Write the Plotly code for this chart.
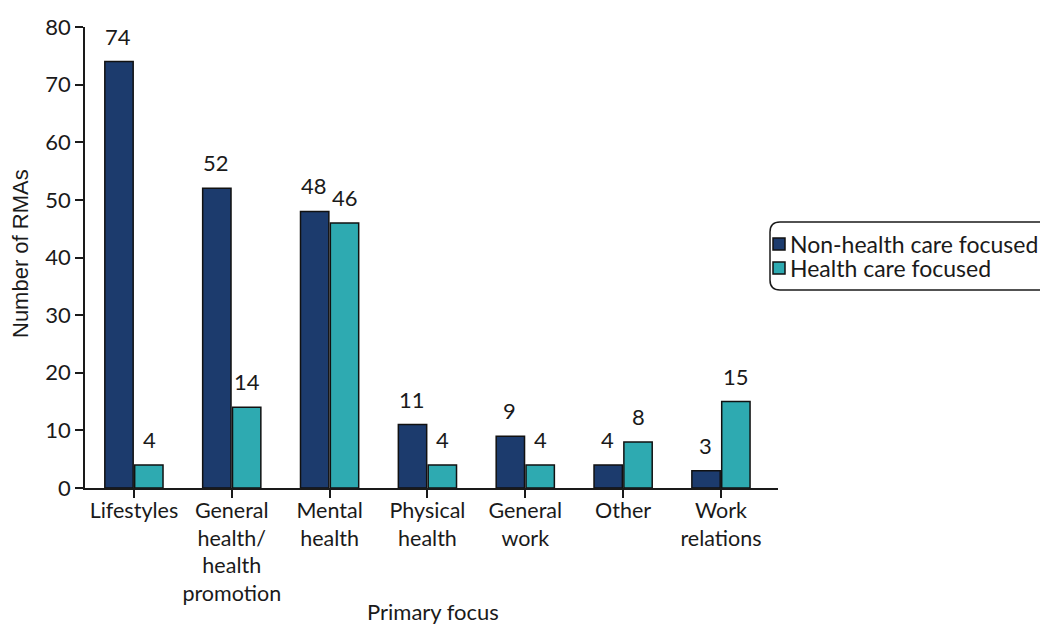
import plotly.graph_objects as go

categories = ["Lifestyles", "General<br>health/<br>health<br>promotion", "Mental<br>health",
              "Physical<br>health", "General<br>work", "Other", "Work<br>relations"]
non_health = [74, 52, 48, 11, 9, 4, 3]
health = [4, 14, 46, 4, 4, 8, 15]
series_names = ["Non-health care focused", "Health care focused"]
colors = ["#1c3b6d", "#2eaab1"]

OFF = 8  # page body margin
W, H = 1048 - OFF, 625 - OFF
L, R, T, B = 85, 778, 27, 488  # plot area in window pixels
pw, ph = R - L, B - T
TXT = "#1a1a1a"


def px(x):
    return (x - L) / pw


def py(y):
    return (B - y) / ph


fig = go.Figure()
for name, vals, col in zip(series_names, [non_health, health], colors):
    fig.add_trace(go.Bar(x=categories, y=vals, name=name, showlegend=False,
                         marker=dict(color=col, line=dict(color="#111111", width=1.5))))

annotations = []
for vals, shift in [(non_health, -15.5), (health, 15.5)]:
    for c, v in zip(categories, vals):
        annotations.append(dict(x=c, y=v, xref="x", yref="y", text=str(v), showarrow=False,
                                xshift=shift, yshift=10, yanchor="bottom",
                                font=dict(family="Lato", size=22, color=TXT)))

annotations.append(dict(x=px(20), y=py(254), xref="paper", yref="paper", text="Number of RMAs",
                        textangle=-90, showarrow=False, xanchor="center", yanchor="middle",
                        font=dict(family="Liberation Sans", size=22, color=TXT)))
annotations.append(dict(x=px(433), y=py(611), xref="paper", yref="paper",
                        text="Primary focus", showarrow=False, xanchor="center", yanchor="middle",
                        font=dict(family="Lato", size=22, color=TXT)))

shapes = []
# rounded legend box
x0, x1, y0, y1, r = 770, 1060, 222, 290, 10
path = (f"M {px(x0 + r)},{py(y0)} L {px(x1 - r)},{py(y0)} "
        f"Q {px(x1)},{py(y0)} {px(x1)},{py(y0 + r)} L {px(x1)},{py(y1 - r)} "
        f"Q {px(x1)},{py(y1)} {px(x1 - r)},{py(y1)} L {px(x0 + r)},{py(y1)} "
        f"Q {px(x0)},{py(y1)} {px(x0)},{py(y1 - r)} L {px(x0)},{py(y0 + r)} "
        f"Q {px(x0)},{py(y0)} {px(x0 + r)},{py(y0)} Z")
shapes.append(dict(type="path", path=path, xref="paper", yref="paper",
                   line=dict(color=TXT, width=1.5)))

# legend entries
for i, (name, col) in enumerate(zip(series_names, colors)):
    cy = 244 + i * 24
    shapes.append(dict(type="rect", xref="paper", yref="paper",
                       x0=px(773), x1=px(785), y0=py(cy + 6), y1=py(cy - 6),
                       fillcolor=col, line=dict(color="#111111", width=1.5)))
    annotations.append(dict(x=px(788), y=py(cy), xref="paper", yref="paper", text=name,
                            showarrow=False, xanchor="left", yanchor="middle",
                            font=dict(family="Lato", size=23, color=TXT)))

fig.update_layout(
    width=W, height=H,
    margin=dict(l=L - OFF, r=W - (R - OFF), t=T - OFF, b=H - (B - OFF), autoexpand=False),
    plot_bgcolor="white", paper_bgcolor="white",
    barmode="group", bargap=0.39, bargroupgap=0.05,
    font=dict(family="Lato", size=22, color=TXT),
    showlegend=False,
    annotations=annotations,
    shapes=shapes,
    xaxis=dict(range=[-0.5, 6.583], showline=True, linecolor=TXT, linewidth=1.5,
               ticks="outside", ticklen=8, tickcolor=TXT, tickwidth=1.5, automargin=False,
               ticklabelstandoff=-6,
               tickfont=dict(family="Lato", size=21.5, color=TXT), showgrid=False, zeroline=False),
    yaxis=dict(range=[0, 80], dtick=10, showline=True, linecolor=TXT, linewidth=1.5,
               ticks="outside", ticklen=8, tickcolor=TXT, tickwidth=1.5, automargin=False,
               tickfont=dict(family="Lato", size=22, color=TXT), showgrid=False, zeroline=False),
)

fig.write_html("out.html")
